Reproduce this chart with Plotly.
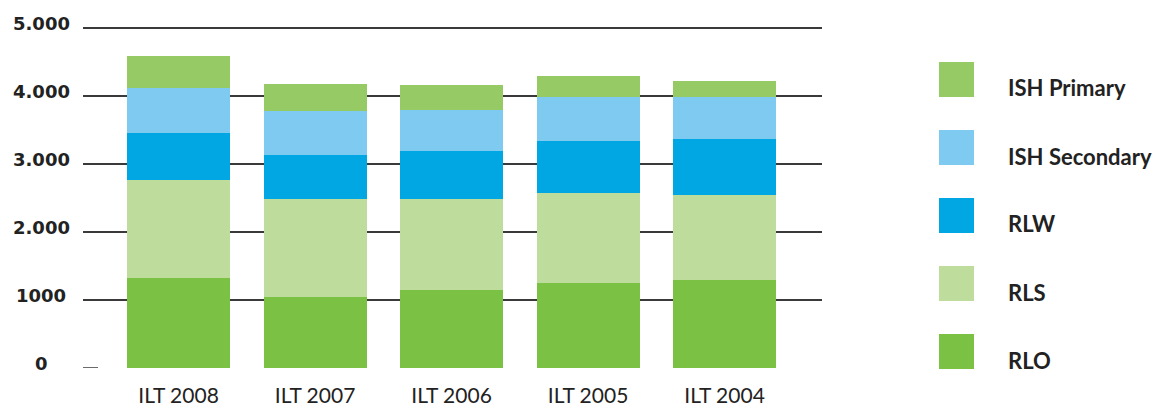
import plotly.graph_objects as go

years = ["ILT 2008", "ILT 2007", "ILT 2006", "ILT 2005", "ILT 2004"]

# segment sizes (stacked bottom -> top)
rlo = [1324, 1044, 1152, 1250, 1294]
rls = [1441, 1441, 1333, 1324, 1250]
rlw = [691, 647, 706, 764, 824]
ish_secondary = [662, 647, 603, 647, 617]
ish_primary = [470, 397, 368, 309, 236]

series = [
    ("RLO", rlo, "#7bc143"),
    ("RLS", rls, "#bedc9b"),
    ("RLW", rlw, "#00a7e3"),
    ("ISH Secondary", ish_secondary, "#7fcaf0"),
    ("ISH Primary", ish_primary, "#95ca65"),
]

y_ticks = [0, 1000, 2000, 3000, 4000, 5000]
y_labels = ["0", "1000", "2.000", "3.000", "4.000", "5.000"]

fig = go.Figure()
for name, vals, col in series:
    fig.add_trace(go.Bar(x=years, y=vals, name=name, marker_color=col,
                         marker_line_width=0, showlegend=False))

# the page body has an 8px margin, so work in screen pixels minus 8
OFF = 8
W, H = 1160 - OFF, 407 - OFF
L, R, T, B = 83 - OFF, 822 - OFF, 27 - OFF, 368 - OFF
def pxx(x):
    return (x - OFF - L) / (R - L)
def pxy(y):
    return (B - (y - OFF)) / (B - T)

# y labels are centred in the left margin, not right aligned
for v, lab in zip(y_ticks, y_labels):
    fig.add_annotation(xref="paper", yref="y", x=pxx(41), y=v, yshift=5,
                       text=lab, showarrow=False, xanchor="center", yanchor="middle",
                       font=dict(family="DejaVu Sans", size=18, color="#222222", weight="bold"))

# legend, top item = last series
for i, (name, vals, col) in enumerate(reversed(series)):
    top = 62 + 68 * i
    fig.add_shape(type="rect", xref="paper", yref="paper",
                  x0=pxx(939), x1=pxx(974), y0=pxy(top + 35), y1=pxy(top),
                  fillcolor=col, line_width=0)
    fig.add_annotation(xref="paper", yref="paper", x=pxx(1006), y=pxy(top + 26),
                       text=name, showarrow=False, xanchor="left", yanchor="middle",
                       font=dict(family="Lato", size=22, color="#222222", weight="bold"))

# short tick at zero
fig.add_shape(type="line", xref="paper", yref="y", x0=0, x1=pxx(98), y0=0, y1=0,
              line=dict(color="#3a3a3a", width=1.5))

fig.update_layout(
    width=W, height=H,
    margin=dict(l=L, r=W - R, t=T, b=H - B),
    barmode="stack", bargap=0.245,
    plot_bgcolor="white", paper_bgcolor="white",
    font=dict(family="Lato", color="#222222"),
)
fig.update_xaxes(range=[-0.70, 4.714], showgrid=False, showline=False, ticks="",
                 automargin=False,
                 tickfont=dict(family="Lato", size=21, color="#222222"),
                 ticklabelstandoff=13)
fig.update_yaxes(range=[0, 5015], tickvals=y_ticks, showticklabels=False,
                 showgrid=True, gridcolor="#3a3a3a", gridwidth=1.5,
                 zeroline=True, zerolinecolor="rgba(0,0,0,0)", showline=False,
                 automargin=False)

fig.write_html("out.html")
